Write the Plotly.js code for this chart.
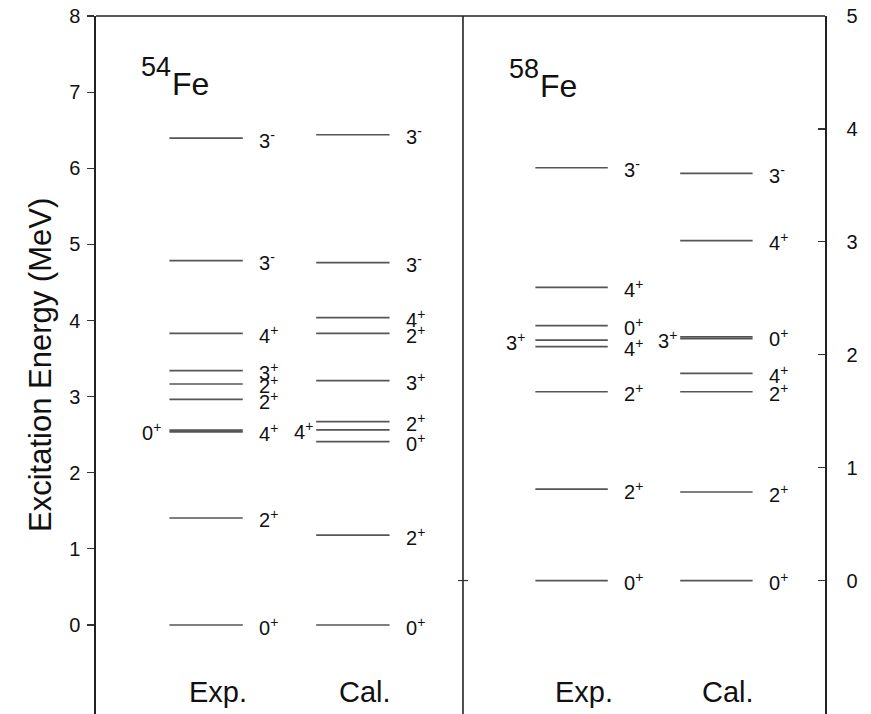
<!DOCTYPE html>
<html>
<head>
<meta charset="utf-8">
<script src="https://cdn.plot.ly/plotly-3.0.1.min.js"></script>
<style>html,body{margin:0;padding:0;overflow:hidden;background:#fff;}</style>
</head>
<body>
<div id="chart" style="width:871px;height:714px;"></div>
<script>
// ---- data ----
const fe54ExpE = [0, 1.406, 2.538, 2.561, 2.965, 3.166, 3.341, 3.832, 4.786, 6.397];
const fe54ExpJ = ['0+', '2+', '4+', '0+', '2+', '2+', '3+', '4+', '3-', '3-'];
const fe54ExpLeft = [3];
const fe54CalE = [0, 1.182, 2.408, 2.562, 2.671, 3.209, 3.832, 4.037, 4.760, 6.440];
const fe54CalJ = ['0+', '2+', '0+', '4+', '2+', '3+', '2+', '4+', '3-', '3-'];
const fe54CalLeft = [3];
const fe58ExpE = [0, 0.810, 1.672, 2.071, 2.130, 2.257, 2.597, 3.656];
const fe58ExpJ = ['0+', '2+', '2+', '4+', '3+', '0+', '4+', '3-'];
const fe58ExpLeft = [4];
const fe58CalE = [0, 0.784, 1.672, 1.835, 2.143, 2.158, 3.010, 3.607];
const fe58CalJ = ['0+', '2+', '2+', '4+', '3+', '0+', '4+', '3-'];
const fe58CalLeft = [4];
const columnNames = ['Exp.', 'Cal.'];
const nuclei = [{A: '54', el: 'Fe'}, {A: '58', el: 'Fe'}];
const leftTicks = [0, 1, 2, 3, 4, 5, 6, 7, 8];
const rightTicks = [0, 1, 2, 3, 4, 5];

// ---- layout constants ----
const FONT = 'Liberation Sans, Arial, Helvetica, sans-serif';
const colX = [0.6, 1.4];
const half = 0.2;
const split = 0.5034;

function jpText(j) {
  return j.charAt(0) + '<sup>' + j.charAt(1) + '</sup>';
}

const traces = [];
const annotations = [];

function addColumn(E, J, leftIdx, xc, xr, yr, leftGap) {
  const xs = [], ys = [];
  E.forEach((e, i) => {
    xs.push(xc - half, xc + half, null);
    ys.push(e, e, null);
    const isLeft = leftIdx.indexOf(i) >= 0;
    annotations.push({
      xref: xr, yref: yr,
      x: isLeft ? xc - half : xc + half,
      y: e,
      xanchor: isLeft ? 'right' : 'left',
      yanchor: 'middle',
      xshift: isLeft ? -leftGap : 14,
      yshift: -1,
      text: jpText(J[i]),
      showarrow: false,
      font: {family: FONT, size: 20, color: '#111'}
    });
  });
  traces.push({
    x: xs, y: ys, xaxis: xr, yaxis: yr,
    mode: 'lines', type: 'scatter', hoverinfo: 'skip',
    line: {color: '#555', width: 1.7}
  });
}

addColumn(fe54ExpE, fe54ExpJ, fe54ExpLeft, colX[0], 'x', 'y', 6);
addColumn(fe54CalE, fe54CalJ, fe54CalLeft, colX[1], 'x', 'y', 1);
addColumn(fe58ExpE, fe58ExpJ, fe58ExpLeft, colX[0], 'x2', 'y2', 8);
addColumn(fe58CalE, fe58CalJ, fe58CalLeft, colX[1], 'x2', 'y2', 1);

// column names at bottom
['x', 'x2'].forEach((xr) => {
  columnNames.forEach((nm, k) => {
    annotations.push({
      xref: xr, yref: 'paper', x: colX[k], y: 0, xanchor: 'center', yanchor: 'bottom',
      xshift: 12, yshift: 4,
      text: nm, showarrow: false,
      font: {family: FONT, size: 29, color: '#111'}
    });
  });
});

// nucleus titles
const titlePos = [{xr: 'x', xs: 44, ys: 0}, {xr: 'x2', xs: 45, ys: -2}];
nuclei.forEach((n, k) => {
  const p = titlePos[k];
  annotations.push({
    xref: p.xr, yref: 'paper', x: 0, y: 1, xanchor: 'left', yanchor: 'top',
    xshift: p.xs - 1, yshift: -34 + p.ys,
    text: n.A, showarrow: false,
    font: {family: FONT, size: 27, color: '#111'}
  });
  annotations.push({
    xref: p.xr, yref: 'paper', x: 0, y: 1, xanchor: 'left', yanchor: 'top',
    xshift: p.xs + 30, yshift: -48 + p.ys,
    text: n.el, showarrow: false,
    font: {family: FONT, size: 32, color: '#111'}
  });
});

// y axis title
annotations.push({
  xref: 'paper', yref: 'paper', x: -0.0768, y: 0.5, xanchor: 'center', yanchor: 'middle',
  textangle: -90, text: 'Excitation Energy (MeV)', showarrow: false,
  font: {family: FONT, size: 31, color: '#111'}
});

const layout = {
  width: 871, height: 714,
  margin: {l: 96, r: 46, t: 16, b: 0, pad: 0},
  paper_bgcolor: '#fff', plot_bgcolor: '#fff',
  showlegend: false,
  xaxis: {domain: [0, split], range: [0, 2], visible: false, fixedrange: true},
  xaxis2: {domain: [split, 1], range: [0, 2], visible: false, anchor: 'y2', fixedrange: true},
  yaxis: {
    anchor: 'x', range: [-1.169, 8], side: 'left',
    showline: true, linecolor: '#222', linewidth: 1.6,
    ticks: 'outside', ticklen: 7, tickwidth: 1.2, tickcolor: '#333',
    tickvals: leftTicks, ticktext: leftTicks.map(String),
    showgrid: false, zeroline: false, ticklabelstandoff: 3,
    tickfont: {family: FONT, size: 20, color: '#111'}
  },
  yaxis2: {
    anchor: 'x2', range: [-1.182, 5], side: 'right',
    showline: true, linecolor: '#222', linewidth: 1.6,
    ticks: 'inside', ticklen: 7, tickwidth: 1.2, tickcolor: '#333',
    tickvals: rightTicks, ticktext: rightTicks.map(String),
    showgrid: false, zeroline: false, ticklabelstandoff: 16,
    tickfont: {family: FONT, size: 20, color: '#111'}
  },
  shapes: [
    {type: 'line', xref: 'paper', yref: 'paper', x0: 0, x1: 1, y0: 1, y1: 1,
     line: {color: '#222', width: 1.6}},
    {type: 'line', xref: 'paper', yref: 'paper', x0: split, x1: split, y0: 0, y1: 1,
     line: {color: '#222', width: 1.6}},
    {type: 'line', xref: 'paper', yref: 'y2', xsizemode: 'pixel', xanchor: split,
     x0: -5, x1: 5, y0: 0, y1: 0, line: {color: '#333', width: 1.2}}
  ],
  annotations: annotations
};

Plotly.newPlot('chart', traces, layout, {displayModeBar: false, staticPlot: true});
</script>
</body>
</html>
